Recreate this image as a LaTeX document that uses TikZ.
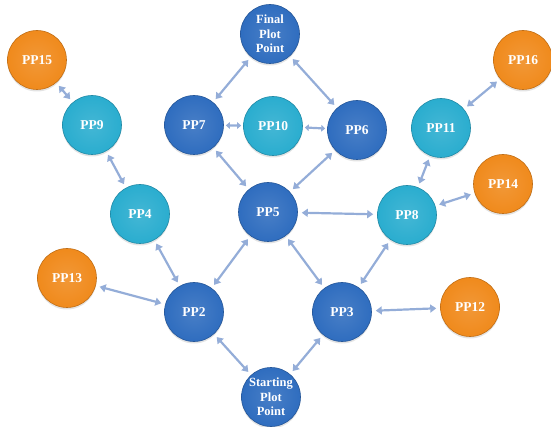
\documentclass[tikz,border=0pt]{standalone}
\usepackage{fontspec}
\setmainfont{Liberation Serif}
\usetikzlibrary{arrows.meta,shadows}
\definecolor{dblue}{HTML}{2F6DBF}
\definecolor{cyanb}{HTML}{2AADCF}
\definecolor{orng}{HTML}{F08A1C}
\definecolor{linkc}{HTML}{94ADD8}
\tikzset{
  ball/.style={circle, minimum size=59pt, inner sep=0pt, text=white,
    font=\bfseries\fontsize{13.5}{14.5}\selectfont, align=center,
    draw=#1!80!black, line width=0.6pt,
    inner color=#1!88!white, outer color=#1,
    drop shadow={shadow xshift=0pt, shadow yshift=-2pt, opacity=0.18, fill=black!60}},
  bball/.style={ball=dblue},
  cball/.style={ball=cyanb},
  oball/.style={ball=orng},
  mlfont/.style={font=\bfseries\fontsize{12.5}{14.5}\selectfont},
  link/.style={draw=linkc, line width=2.2pt,
    {Triangle[length=6pt,width=8pt]}-{Triangle[length=6pt,width=8pt]},
    shorten <=4pt, shorten >=4pt},
  shortlink/.style={draw=linkc, line width=2.2pt,
    {Triangle[length=4pt,width=6.5pt]}-{Triangle[length=4pt,width=6.5pt]},
    shorten <=2pt, shorten >=2pt}
}
\begin{document}
\begin{tikzpicture}[x=1pt,y=-1pt]
\useasboundingbox (0,0) rectangle (551,427);
\node[bball,mlfont] (fin) at (270,34) {Final\\Plot\\Point};
\node[oball] (p15) at (37,60) {PP15};
\node[cball] (p9) at (92,125) {PP9};
\node[bball] (p7) at (194,125) {PP7};
\node[cball] (p10) at (273,126) {PP10};
\node[bball] (p6) at (357,130) {PP6};
\node[cball] (p11) at (441,128) {PP11};
\node[oball] (p16) at (523,60) {PP16};
\node[oball] (p14) at (503,184) {PP14};
\node[cball] (p8) at (407,215) {PP8};
\node[bball] (p5) at (268,212) {PP5};
\node[cball] (p4) at (140,214) {PP4};
\node[oball] (p13) at (67,278) {PP13};
\node[bball] (p2) at (194,312) {PP2};
\node[bball] (p3) at (342,312) {PP3};
\node[oball] (p12) at (470,307) {PP12};
\node[bball,mlfont] (st) at (271,397) {Starting\\Plot\\Point};
\draw[link] (p15) -- (p9);
\draw[link] (p9) -- (p4);
\draw[link] (p4) -- (p2);
\draw[link] (p13) -- (p2);
\draw[link] (p2) -- (p5);
\draw[link] (p2) -- (st);
\draw[link] (st) -- (p3);
\draw[link] (p3) -- (p5);
\draw[link] (p3) -- (p8);
\draw[link] (p3) -- (p12);
\draw[link] (p5) -- (p8);
\draw[link] (p5) -- (p7);
\draw[link] (p5) -- (p6);
\draw[link] (p7) -- (fin);
\draw[shortlink] (p7) -- (p10);
\draw[shortlink] (p10) -- (p6);
\draw[link] (fin) -- (p6);
\draw[link] (p8) -- (p11);
\draw[link] (p8) -- (p14);
\draw[link] (p11) -- (p16);
\end{tikzpicture}
\end{document}
